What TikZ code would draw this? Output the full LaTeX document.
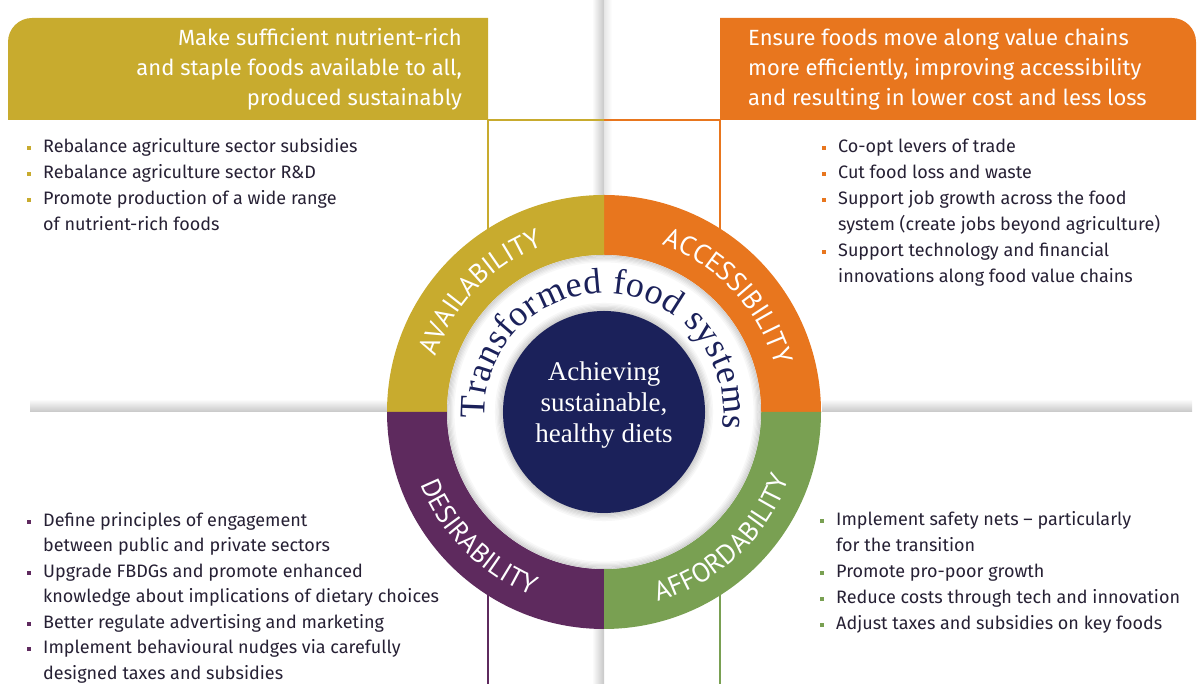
\documentclass[tikz,border=0pt]{standalone}
\usepackage{fontspec}
\setmainfont{Fira Sans}
\newfontfamily\serifface{Liberation Serif}
\newfontfamily\ringface{PT Sans}
\usetikzlibrary{decorations.text,positioning}
\newcommand\bul[1]{\makebox[16pt][l]{\textcolor{#1}{\rule[2.7pt]{3.8pt}{3.8pt}}}}
\newcommand\ind{\hspace*{16pt}}
\def\ringfont{\ringface\fontsize{27}{27}\selectfont}

\begin{document}
\begin{tikzpicture}[x=1pt,y=1pt]
\definecolor{avail}{RGB}{200,171,46}  \definecolor{access}{RGB}{232,118,30}
\definecolor{desire}{RGB}{94,42,94}   \definecolor{afford}{RGB}{121,160,82}
\definecolor{core}{RGB}{27,33,90}     \definecolor{ink}{RGB}{38,32,52}
\tikzset{head/.style={inner sep=0pt,text=white,font=\fontsize{22}{30}\selectfont},
  list/.style={inner sep=0pt,anchor=north west,align=left,text=ink,font=\fontsize{18}{26}\selectfont},
  frame/.style={line width=1.2pt}}
\useasboundingbox (0,0) rectangle (1198,684);

\shade[top color=white,bottom color=black!22] (30,272) rectangle (388,285);
\shade[top color=white,bottom color=black!22] (822,272) rectangle (1192,285);
\shade[left color=white,right color=black!22] (592,489) rectangle (604,684);
\shade[left color=black!10,right color=white] (604,489) rectangle (612,684);
\shade[left color=white,right color=black!22] (592,0) rectangle (604,56);

\fill[avail] (8,564) -- (8,642) arc[start angle=180,end angle=90,radius=24] -- (488,666) -- (488,564) -- cycle;
\fill[access] (720,564) -- (720,666) -- (1172,666) arc[start angle=90,end angle=0,radius=24] -- (1196,564) -- cycle;
\node[head,anchor=north east,align=right] (availhead) at (462,656)
  {Make sufficient nutrient-rich\\and staple foods available to all,\\produced sustainably};
\node[head,anchor=north west,align=left] (accesshead) at (748,656)
  {Ensure foods move along value chains\\more efficiently, improving accessibility\\and resulting in lower cost and less loss};

\coordinate (tl) at (488,564); \coordinate (tr) at (720,564);
\draw[frame,avail] (tl) -- (604,564); \draw[frame,access] (604,564) -- (tr);
\draw[frame,avail] (tl) -- (488,300); \draw[frame,access] (tr) -- (720,300);
\draw[frame,desire] (488,250) -- (488,0); \draw[frame,afford] (720,250) -- (720,0);

\node[list] (availlist) at (27,546)
  {\bul{avail}Rebalance agriculture sector subsidies\\
   \bul{avail}Rebalance agriculture sector R\&D\\
   \bul{avail}Promote production of a wide range\\
   \ind of nutrient-rich foods};
\node[list] (accesslist) at (822,545)
  {\bul{access}Co-opt levers of trade\\
   \bul{access}Cut food loss and waste\\
   \bul{access}Support job growth across the food\\
   \ind system (create jobs beyond agriculture)\\
   \bul{access}Support technology and financial\\
   \ind innovations along food value chains};
\node[list,font=\fontsize{18}{25.5}\selectfont] (desirelist) at (27,172)
  {\bul{desire}Define principles of engagement\\
   \ind between public and private sectors\\
   \bul{desire}Upgrade FBDGs and promote enhanced\\
   \ind knowledge about implications of dietary choices\\
   \bul{desire}Better regulate advertising and marketing\\
   \bul{desire}Implement behavioural nudges via carefully\\
   \ind designed taxes and subsidies};
\node[list] (affordlist) at (820,173)
  {\bul{afford}Implement safety nets -- particularly\\
   \ind for the transition\\
   \bul{afford}Promote pro-poor growth\\
   \bul{afford}Reduce costs through tech and innovation\\
   \bul{afford}Adjust taxes and subsidies on key foods};

\begin{scope}[shift={(604,272)}]
\foreach \col/\a in {access/0,avail/90,desire/180,afford/270}
  \fill[\col] (0,0) -- (\a:217) arc[start angle=\a,delta angle=90,radius=217] -- cycle;
\fill[white] (0,0) circle[radius=157];
\foreach \i [evaluate=\i as \g using 21-3*\i] in {1,...,6}
  \draw[line width=1.3pt,black!\g] (0,0) circle[radius=157.5-\i*1.2];
\foreach \i [evaluate=\i as \g using 24-3*\i] in {1,...,7}
  \draw[line width=1.3pt,black!\g] (0,0) circle[radius=100+\i*1.2];
\node[circle,fill=core,minimum size=202pt,inner sep=0pt] (core) at (0,0) {};
\node[text=white,align=center,font=\serifface\fontsize{27}{31}\selectfont] (goal) at (0,7)
  {Achieving\\sustainable,\\healthy diets};

\path[decorate,decoration={text along path,text align=center,
  text={|\color{white}\ringfont|AVAILABILITY}}] (176:177) arc[start angle=176,end angle=96,radius=177];
\path[decorate,decoration={text along path,text align=center,
  text={|\color{white}\ringfont|ACCESSIBILITY}}] (83:177) arc[start angle=83,end angle=3,radius=177];
\path[decorate,decoration={text along path,text align=center,
  text={|\color{white}\ringfont|DESIRABILITY}}] (185:197) arc[start angle=185,end angle=265,radius=197];
\path[decorate,decoration={text along path,text align=center,
  text={|\color{white}\ringfont|AFFORDABILITY}}] (273:197) arc[start angle=273,end angle=353,radius=197];
\path[decorate,decoration={text along path,text align=fit to path,
  text={|\color{core}\serifface\fontsize{36}{36}\selectfont|Transformed food systems}}]
  (183:119) arc[start angle=183,end angle=-8,radius=119];
\end{scope}
\end{tikzpicture}
\end{document}
